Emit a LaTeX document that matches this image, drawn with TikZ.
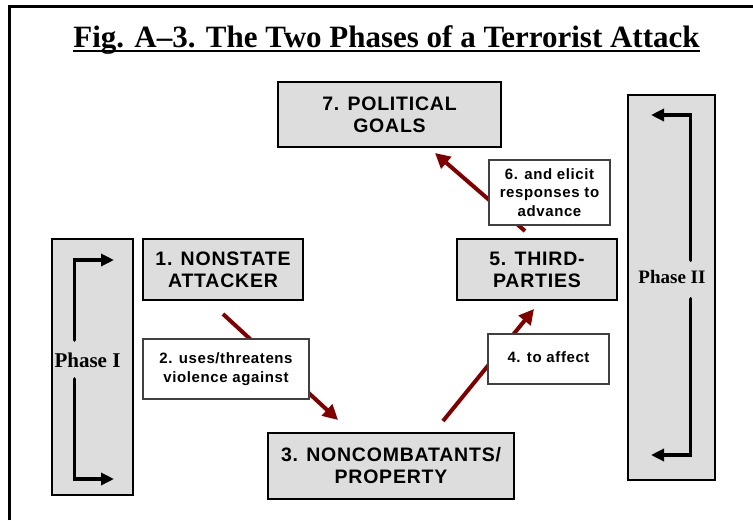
\documentclass[tikz,border=0pt]{standalone}
\usepackage{fontspec}
\setmainfont{Liberation Serif}
\newfontfamily\boxfont[LetterSpace=4]{Liberation Sans}
\usetikzlibrary{arrows.meta}
\definecolor{boxgray}{HTML}{DDDDDD}
\definecolor{arrowred}{HTML}{800000}
\begin{document}
\begin{tikzpicture}[x=1pt,y=-1pt,
  mainbox/.style={draw=black, line width=2pt, fill=boxgray, font=\boxfont\bfseries\fontsize{19.5}{22}\selectfont, align=center, inner sep=0pt},
  labelbox/.style={draw=black!75, line width=1.3pt, fill=white, font=\boxfont\bfseries\fontsize{15}{18.5}\selectfont, align=center, inner sep=0pt},
  phasebox/.style={draw=black, line width=2.8pt, fill=boxgray, inner sep=0pt},
  phasetext/.style={font=\bfseries\fontsize{19}{22}\selectfont, inner sep=0pt},
  redarrow/.style={draw=arrowred, line width=4pt, -{Triangle[length=15pt,width=15pt]}},
  phasearrow/.style={draw=black, line width=3.8pt, line cap=round, -{Triangle[length=13pt,width=12pt]}}]
\fill[white] (0,0) rectangle (753,520);
\useasboundingbox (0,0) rectangle (753,520);
% frame
\draw[line width=3pt] (9.5,520) -- (9.5,6.5) -- (753,6.5);
% title
\node[font=\bfseries\fontsize{31}{34}\selectfont, inner sep=0pt, anchor=base] (title) at (386.5,47) {Fig. A–3. The Two Phases of a Terrorist Attack};
\draw[line width=2pt] ([yshift=-3.5pt]title.base west) -- ([yshift=-3.5pt]title.base east);
% phase boxes
\node[phasebox, minimum width=81pt, minimum height=256pt] (ph1) at (92.5,367) {};
\node[phasebox, minimum width=87pt, minimum height=385pt] (ph2) at (671.5,287.5) {};
\node[phasetext, font=\bfseries\fontsize{21}{24}\selectfont] (ph1t) at (87.5,360) {Phase I};
\node[phasetext] (ph2t) at (672,277) {Phase II};
% phase arrows
\coordinate (p1a) at (74.5,340);
\coordinate (p1b) at (114,260);
\coordinate (p1c) at (74.5,379);
\coordinate (p1d) at (114,479);
\draw[phasearrow] (p1a) |- (p1b);
\draw[phasearrow] (p1c) |- (p1d);
\coordinate (p2a) at (690.5,260);
\coordinate (p2b) at (651,115);
\coordinate (p2c) at (690.5,299);
\coordinate (p2d) at (651,455);
\draw[phasearrow] (p2a) |- (p2b);
\draw[phasearrow] (p2c) |- (p2d);
% main boxes
\node[mainbox, minimum width=223pt, minimum height=65pt] (n7) at (389.5,114.5) {7. POLITICAL\\GOALS};
\node[mainbox, minimum width=160pt, minimum height=61pt] (n1) at (223,269.5) {1. NONSTATE\\ATTACKER};
\node[mainbox, minimum width=160pt, minimum height=61pt] (n5) at (537,269.5) {5. THIRD-\\PARTIES};
\node[mainbox, minimum width=246pt, minimum height=66pt] (n3) at (391,466) {3. NONCOMBATANTS/\\PROPERTY};
% red arrows
\coordinate (a2s) at (223,314);
\coordinate (a2e) at (338,420);
\coordinate (a4s) at (443,421);
\coordinate (a4e) at (534,309);
\coordinate (a6s) at (525,231);
\coordinate (a6e) at (435,153);
\draw[redarrow] (a2s) -- (a2e);
\draw[redarrow] (a4s) -- (a4e);
\draw[redarrow] (a6s) -- (a6e);
% label boxes
\node[labelbox, minimum width=166pt, minimum height=60pt] (l2) at (226,369) {2. uses/threatens\\violence against};
\node[labelbox, minimum width=121pt, minimum height=50pt] (l4) at (548.5,359) {\raisebox{4pt}{4. to affect}};
\node[labelbox, minimum width=121pt, minimum height=65pt] (l6) at (549.5,192.5) {6. and elicit\\responses to\\advance};
\end{tikzpicture}
\end{document}
